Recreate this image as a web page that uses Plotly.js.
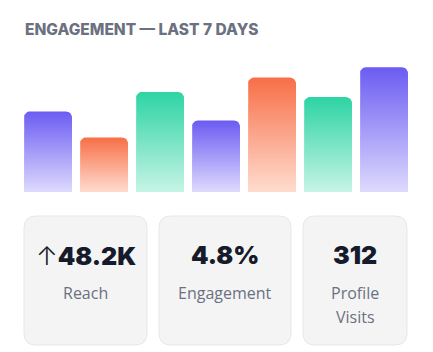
<!DOCTYPE html>
<html>
<head>
<meta charset="utf-8">
<script src="https://cdn.plot.ly/plotly-3.0.1.min.js"></script>
<style>
html,body{margin:0;padding:0;background:#ffffff;}
#chart{width:433px;height:352px;}
</style>
</head>
<body>
<div id="chart"></div>
<script>
// ---- data ----
const days = ["Day 1", "Day 2", "Day 3", "Day 4", "Day 5", "Day 6", "Day 7"];
const engagement = [62, 42, 77, 55, 88, 73, 96];
const barTopColors = ["#6b5cf2", "#f76f47", "#2dd4a4", "#6b5cf2", "#f76f47", "#2dd4a4", "#6b5cf2"];
const barBottomColors = ["#dedafd", "#ffdccf", "#c6f4e5", "#dedafd", "#ffdccf", "#c6f4e5", "#dedafd"];
const statValues = ["↑48.2K", "4.8%", "312"];
const statLabels = ["Reach", "Engagement", "Profile<br>Visits"];

// ---- layout geometry (pixels) ----
const W = 433, H = 352;
const pitch = 56, barW = 48, plotLeft = 20, plotBottom = 192, plotTop = 62;
const yMax = 100;
const pxPerY = (plotBottom - plotTop) / yMax;
const radius = 6;

const px2paperX = px => px / W;
const px2paperY = py => 1 - py / H;

const traces = [];
days.forEach((d, i) => {
  const v = engagement[i];
  const half = (barW / 2) / pitch;
  const x0 = i - half, x1 = i + half;
  const rx = radius / pitch, ry = radius / pxPerY;
  const xs = [x0], ys = [0];
  for (let k = 0; k <= 6; k++) {
    const a = Math.PI - (k / 6) * (Math.PI / 2);
    xs.push(x0 + rx + rx * Math.cos(a));
    ys.push(v - ry + ry * Math.sin(a));
  }
  for (let k = 0; k <= 6; k++) {
    const a = Math.PI / 2 - (k / 6) * (Math.PI / 2);
    xs.push(x1 - rx + rx * Math.cos(a));
    ys.push(v - ry + ry * Math.sin(a));
  }
  xs.push(x1, x0); ys.push(0, 0);
  traces.push({
    type: "scatter",
    x: xs, y: ys,
    mode: "lines",
    line: {width: 0, color: "rgba(0,0,0,0)"},
    fill: "toself",
    fillgradient: {
      type: "vertical",
      start: 0, stop: v,
      colorscale: [[0, barBottomColors[i]], [1, barTopColors[i]]]
    },
    hoverinfo: "skip",
    showlegend: false
  });
});

// stat boxes
const boxes = [[24, 147], [159, 291], [303, 407]];
const boxTop = 216, boxBottom = 345, br = 12;
function roundedRectPath(l, r, t, b, rad) {
  const X = px2paperX, Y = px2paperY;
  return `M ${X(l + rad)} ${Y(t)} L ${X(r - rad)} ${Y(t)} Q ${X(r)} ${Y(t)} ${X(r)} ${Y(t + rad)} ` +
         `L ${X(r)} ${Y(b - rad)} Q ${X(r)} ${Y(b)} ${X(r - rad)} ${Y(b)} ` +
         `L ${X(l + rad)} ${Y(b)} Q ${X(l)} ${Y(b)} ${X(l)} ${Y(b - rad)} ` +
         `L ${X(l)} ${Y(t + rad)} Q ${X(l)} ${Y(t)} ${X(l + rad)} ${Y(t)} Z`;
}
const shapes = boxes.map(([l, r]) => ({
  type: "path", xref: "paper", yref: "paper",
  path: roundedRectPath(l, r, boxTop, boxBottom, br),
  fillcolor: "#f4f4f5",
  line: {color: "#e7e7ea", width: 1},
  layer: "below"
}));

const annotations = [{
  xref: "paper", yref: "paper",
  x: px2paperX(23), y: px2paperY(30),
  xanchor: "left", yanchor: "middle",
  text: "ENGAGEMENT — LAST 7 DAYS",
  showarrow: false,
  font: {family: "Inter, 'Open Sans', sans-serif", size: 15.5, weight: 800, color: "#6b7180"}
}];
boxes.forEach(([l, r], i) => {
  const cx = (l + r) / 2;
  const val = statValues[i].replace("↑", "<span style='font-weight:300;font-family:Inter;font-size:26px'>↑</span>");
  annotations.push({
    xref: "paper", yref: "paper",
    x: px2paperX(cx), y: px2paperY(255),
    xanchor: "center", yanchor: "middle",
    text: val, showarrow: false,
    font: {family: "Inter, 'Open Sans', sans-serif", size: 25, weight: 900, color: "#161b2b"}
  });
  statLabels[i].split("<br>").forEach((line, j) => {
    annotations.push({
      xref: "paper", yref: "paper",
      x: px2paperX(cx), y: px2paperY(293 + j * 24),
      xanchor: "center", yanchor: "middle",
      text: line, showarrow: false,
      font: {family: "'Open Sans', sans-serif", size: 16, color: "#6b7180"}
    });
  });
});

const layout = {
  width: W, height: H,
  margin: {l: 0, r: 0, t: 0, b: 0},
  paper_bgcolor: "#ffffff",
  plot_bgcolor: "rgba(0,0,0,0)",
  showlegend: false,
  xaxis: {
    domain: [px2paperX(plotLeft), px2paperX(plotLeft + pitch * days.length)],
    range: [-0.5, days.length - 0.5],
    visible: false, fixedrange: true
  },
  yaxis: {
    domain: [px2paperY(plotBottom), px2paperY(plotTop)],
    range: [0, yMax],
    visible: false, fixedrange: true
  },
  shapes: shapes,
  annotations: annotations
};

Plotly.newPlot("chart", traces, layout, {displayModeBar: false, staticPlot: true});
</script>
</body>
</html>
